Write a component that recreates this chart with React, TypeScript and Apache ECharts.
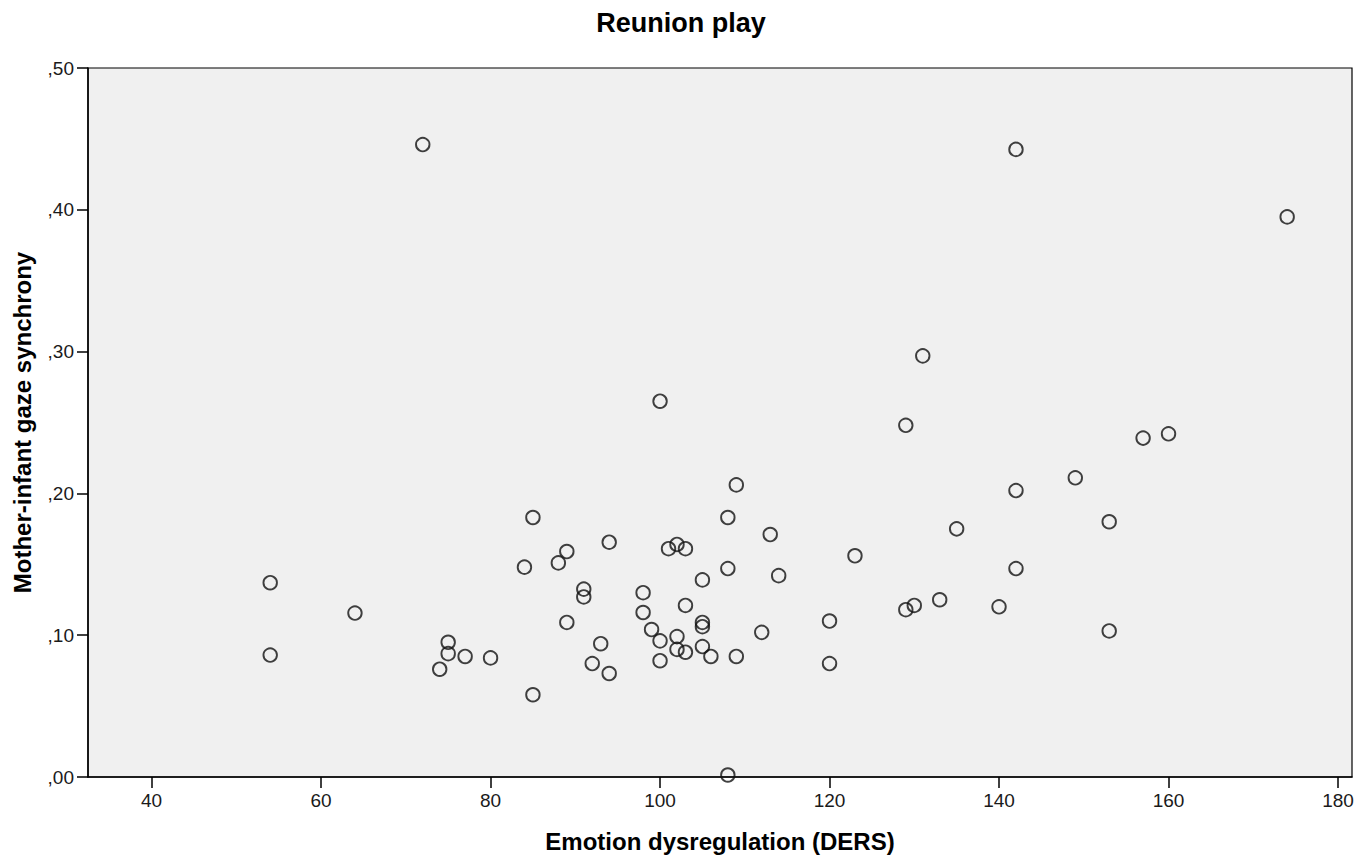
import React, { useEffect, useRef } from "react";
import * as echarts from "echarts";

const ders: number[] = [
  54, 54, 64, 72, 74, 75, 75, 77, 80, 84, 85, 85, 88, 89, 89, 91, 91, 92, 93, 94, 94,
  98, 98, 99, 100, 100, 100, 101, 102, 102, 102, 103, 103, 103, 105, 105, 105, 105, 106,
  108, 108, 108, 109, 109, 112, 113, 114, 120, 120, 123, 129, 129, 130, 131, 133, 135,
  140, 142, 142, 142, 149, 153, 153, 157, 160, 174,
];
const synchrony: number[] = [
  0.137, 0.086, 0.1156, 0.446, 0.076, 0.095, 0.087, 0.085, 0.084, 0.148, 0.183, 0.058,
  0.151, 0.159, 0.109, 0.1325, 0.127, 0.08, 0.094, 0.1656, 0.073,
  0.13, 0.116, 0.104, 0.265, 0.096, 0.082, 0.161, 0.164, 0.099, 0.09, 0.161, 0.121, 0.088,
  0.139, 0.109, 0.106, 0.092, 0.085,
  0.183, 0.147, 0.0014, 0.206, 0.085, 0.102, 0.171, 0.142, 0.11, 0.08, 0.156, 0.248, 0.118,
  0.121, 0.297, 0.125, 0.175, 0.12, 0.4426, 0.202, 0.147, 0.211, 0.18, 0.103, 0.239, 0.242,
  0.395,
];
const xTicks: number[] = [40, 60, 80, 100, 120, 140, 160, 180];

const FONT = "'Liberation Sans', Arial, sans-serif";

export default function App() {
  const ref = useRef<HTMLDivElement>(null);
  useEffect(() => {
    document.body.style.margin = "0";
    if (!ref.current) return;
    const chart = echarts.init(ref.current, null, { renderer: "svg" });
    const data = ders.map((x, i) => [x, synchrony[i]]);
    chart.setOption({
      animation: false,
      backgroundColor: "#ffffff",
      textStyle: { fontFamily: FONT },
      title: {
        text: "Reunion play",
        left: "center",
        top: 4,
        textStyle: { fontFamily: FONT, fontSize: 27, fontWeight: "bold", color: "#000" },
      },
      grid: {
        left: 88,
        top: 68,
        right: 10,
        bottom: 79,
        outerBoundsMode: "none",
        containLabel: false,
        show: true,
        backgroundColor: "#f0f0f0",
        borderColor: "#000",
        borderWidth: 1.2,
      },
      xAxis: {
        type: "value",
        min: 32.5,
        max: 181.65,
        name: "Emotion dysregulation (DERS)",
        nameLocation: "middle",
        nameGap: 52,
        nameTextStyle: { fontFamily: FONT, fontSize: 24, fontWeight: "bold", color: "#000" },
        axisLine: { show: true, lineStyle: { color: "#000", width: 1.5 } },
        axisTick: { show: true, length: 11, lineStyle: { color: "#000", width: 1.5 }, customValues: xTicks },
        axisLabel: {
          customValues: xTicks,
          fontFamily: FONT,
          fontSize: 19,
          color: "#1a1a1a",
          margin: 14,
        },
        splitLine: { show: false },
      },
      yAxis: {
        type: "value",
        min: 0,
        max: 0.5,
        interval: 0.1,
        name: "Mother-infant gaze synchrony",
        nameLocation: "middle",
        nameGap: 54,
        nameTextStyle: { fontFamily: FONT, fontSize: 24, fontWeight: "bold", color: "#000" },
        axisLine: { show: true, lineStyle: { color: "#000", width: 1.5 } },
        axisTick: { show: true, length: 11, lineStyle: { color: "#000", width: 1.5 } },
        axisLabel: {
          fontFamily: FONT,
          fontSize: 19,
          color: "#1a1a1a",
          margin: 14,
          formatter: (v: number) => v.toFixed(2).replace(/^0/, "").replace(".", ","),
        },
        splitLine: { show: false },
      },
      series: [
        {
          type: "scatter",
          data,
          symbol: "circle",
          symbolSize: 13.5,
          itemStyle: { color: "rgba(0,0,0,0)", borderColor: "#111", borderWidth: 1.9 },
          emphasis: { disabled: true },
        },
      ],
    });
    return () => chart.dispose();
  }, []);
  return <div ref={ref} style={{ width: 1362, height: 856 }} />;
}
